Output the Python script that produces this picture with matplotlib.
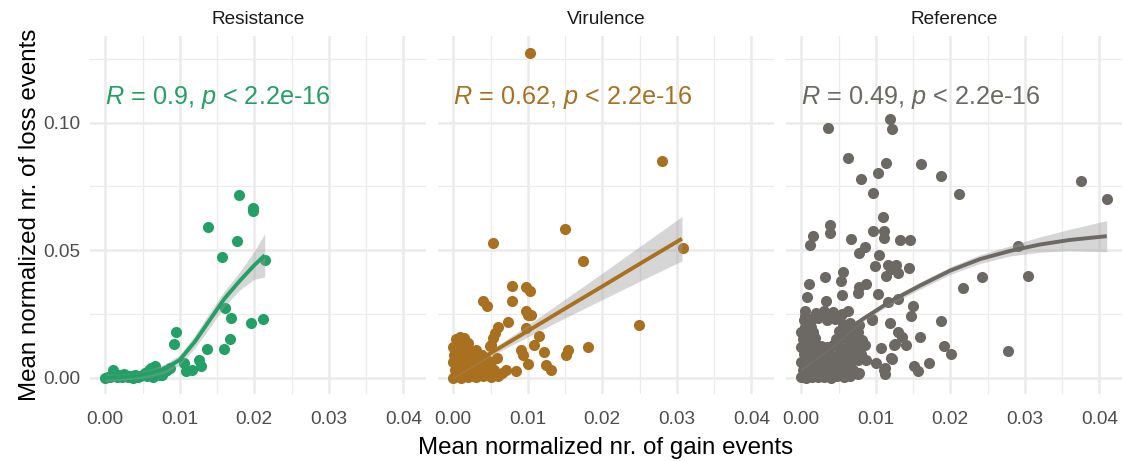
import numpy as np
import matplotlib.pyplot as plt

plt.rcParams['font.family'] = ['Liberation Sans', 'DejaVu Sans']
plt.rcParams['mathtext.fontset'] = 'custom'
plt.rcParams['mathtext.it'] = 'Liberation Sans:italic'
plt.rcParams['mathtext.rm'] = 'Liberation Sans'

panels = ['Resistance', 'Virulence', 'Reference']
colors = ['#23A066', '#A8701F', '#6C6863']
labels = [r'$\mathit{R}$ = 0.9, $\mathit{p}$ < 2.2e-16',
          r'$\mathit{R}$ = 0.62, $\mathit{p}$ < 2.2e-16',
          r'$\mathit{R}$ = 0.49, $\mathit{p}$ < 2.2e-16']

# Resistance points
res_x = [0.0000, 0.0003, 0.0006, 0.0008, 0.0011, 0.0013, 0.0016, 0.0019, 0.0022, 0.0025,
         0.0027, 0.0030, 0.0033, 0.0037, 0.0040, 0.0044, 0.0047, 0.0050, 0.0053, 0.0056,
         0.0059, 0.0062, 0.0064, 0.0067, 0.0070, 0.0073, 0.0076, 0.0080, 0.0083, 0.0087,
         0.01052, 0.01087, 0.01163, 0.01289, 0.01253, 0.01365, 0.01588, 0.01678, 0.00926, 0.00953,
         0.0161, 0.0169, 0.01955, 0.02116, 0.02139, 0.01570, 0.01767, 0.01374, 0.01978, 0.01985,
         0.01790]
res_y = [0.0000, 0.0002, 0.0001, 0.0006, 0.0031, 0.0010, 0.0004, 0.0012, 0.0002, 0.0015,
         0.0008, 0.0001, 0.0006, 0.0000, 0.0010, 0.0003, 0.0005, 0.0012, 0.0020, 0.0008,
         0.0031, 0.0038, 0.0004, 0.0044, 0.0020, 0.0010, 0.0012, 0.0025, 0.0030, 0.0038,
         0.0058, 0.0025, 0.0031, 0.0047, 0.0071, 0.0112, 0.0112, 0.0153, 0.0133, 0.0179,
         0.0273, 0.0235, 0.0214, 0.0230, 0.0461, 0.0475, 0.0537, 0.0591, 0.0667, 0.0655,
         0.0718]

# Virulence points
vir_x = [0.0000, 0.0005, 0.0010, 0.0015, 0.0020, 0.0025, 0.0030, 0.0035, 0.0040, 0.0045,
         0.0050, 0.0055, 0.0060, 0.0065, 0.0002, 0.0008, 0.0013, 0.0018, 0.0024, 0.0030,
         0.0036, 0.0042, 0.0048, 0.0054, 0.0000, 0.0006, 0.0012, 0.0017, 0.0023, 0.0029,
         0.0035, 0.0041, 0.0050, 0.0001, 0.0007, 0.0013, 0.0019, 0.0025, 0.0031, 0.0000,
         0.0006, 0.0012, 0.0018, 0.0024, 0.0003, 0.0009, 0.0015, 0.0012, 0.0020,
         0.0004, 0.0016, 0.0022, 0.0028, 0.0034, 0.0038, 0.0044, 0.0030,
         0.0049, 0.0051, 0.0053, 0.0056, 0.0059, 0.0060, 0.0071, 0.00843, 0.0100, 0.01243,
         0.01311, 0.00913, 0.00936, 0.0109, 0.01156, 0.01222, 0.01512, 0.01535, 0.01815, 0.00741,
         0.00982, 0.00973, 0.01003, 0.01049, 0.00785, 0.0040, 0.00447, 0.00794, 0.00982, 0.01026,
         0.00531, 0.01494, 0.01739, 0.02498, 0.03077, 0.02796, 0.01026]
vir_y = [0.0000, 0.0005, 0.0000, 0.0010, 0.0003, 0.0008, 0.0002, 0.0012, 0.0005, 0.0010,
         0.0003, 0.0015, 0.0008, 0.0020, 0.0030, 0.0035, 0.0028, 0.0040, 0.0032, 0.0038,
         0.0030, 0.0035, 0.0042, 0.0030, 0.0060, 0.0065, 0.0058, 0.0070, 0.0062, 0.0068,
         0.0058, 0.0066, 0.0060, 0.0090, 0.0095, 0.0088, 0.0098, 0.0085, 0.0080, 0.0120,
         0.0125, 0.0118, 0.0112, 0.0105, 0.0150, 0.0160, 0.0155, 0.0140, 0.0135,
         0.0108, 0.0128, 0.0078, 0.0092, 0.0072, 0.0088, 0.0072, 0.0110,
         0.0123, 0.0129, 0.0156, 0.0175, 0.0077, 0.0197, 0.0031, 0.0025, 0.0054, 0.0051,
         0.0029, 0.0110, 0.0090, 0.0129, 0.0165, 0.0101, 0.0090, 0.0107, 0.0119, 0.0217,
         0.0195, 0.0260, 0.0247, 0.0247, 0.0299, 0.0299, 0.0280, 0.0361, 0.0356, 0.0338,
         0.0528, 0.0584, 0.0459, 0.0208, 0.0509, 0.0851, 0.1273]

# Reference points
ref_x = [0.0000, 0.0007, 0.0015, 0.0023, 0.0031, 0.0040, 0.0048, 0.0057, 0.0066,
         0.0002, 0.0011, 0.0019, 0.0027, 0.0036, 0.0044, 0.0053, 0.0061, 0.0070,
         0.0000, 0.0008, 0.0016, 0.0024, 0.0033, 0.0041, 0.0050, 0.0058, 0.0067, 0.0076,
         0.0003, 0.0012, 0.0020, 0.0029, 0.0037, 0.0046, 0.0054, 0.0063, 0.0071, 0.0080,
         0.0000, 0.0009, 0.0017, 0.0026, 0.0034, 0.0043, 0.0051, 0.0060, 0.0068, 0.0077, 0.0085,
         0.0002, 0.0011, 0.0019, 0.0047, 0.0055, 0.0064, 0.0072, 0.0081,
         0.0000, 0.0008, 0.0016, 0.0050, 0.0059, 0.0067, 0.0076,
         0.0004, 0.0014, 0.0023, 0.0034, 0.0045, 0.0056, 0.0065,
         0.0020, 0.0030, 0.0043, 0.0055, 0.0063, 0.00044, 0.00044,
         0.0005, 0.0013, 0.0062, 0.0070, 0.0078,
         0.00603, 0.00759, 0.0113, 0.0113, 0.01519, 0.01563, 0.01005, 0.01711, 0.00871, 0.0122,
         0.00648, 0.00781, 0.01117, 0.01206, 0.02769, 0.01912, 0.02011, 0.01264, 0.01295, 0.01354,
         0.01595, 0.01072, 0.01251, 0.01407, 0.01193, 0.00951, 0.00946, 0.01877, 0.01496, 0.01474,
         0.00326, 0.01295, 0.01161, 0.02176, 0.02426, 0.03038, 0.00075, 0.0055, 0.01027, 0.00871,
         0.00772, 0.00759, 0.00102, 0.00558, 0.00527, 0.00312, 0.01161, 0.01273, 0.01206, 0.01139,
         0.01295, 0.01452, 0.00983, 0.02904, 0.0105, 0.00849, 0.00772, 0.01331, 0.01461, 0.01107,
         0.01107, 0.0096, 0.0067, 0.00156, 0.00111, 0.00379, 0.00379, 0.01103, 0.04097, 0.0096,
         0.02122, 0.03753, 0.01877, 0.00804, 0.01027, 0.01609, 0.01139, 0.00625, 0.00357, 0.01193,
         0.01215]
ref_y = [0.0002, 0.0000, 0.0004, 0.0001, 0.0003, 0.0000, 0.0005, 0.0002, 0.0008,
         0.0032, 0.0028, 0.0035, 0.0030, 0.0026, 0.0034, 0.0029, 0.0036, 0.0031,
         0.0061, 0.0066, 0.0058, 0.0063, 0.0060, 0.0067, 0.0062, 0.0057, 0.0064, 0.0069,
         0.0092, 0.0088, 0.0095, 0.0090, 0.0097, 0.0086, 0.0093, 0.0089, 0.0096, 0.0091,
         0.0121, 0.0126, 0.0118, 0.0124, 0.0120, 0.0127, 0.0122, 0.0117, 0.0125, 0.0119, 0.0128,
         0.0152, 0.0148, 0.0156, 0.0150, 0.0155, 0.0147, 0.0153, 0.0149,
         0.0181, 0.0186, 0.0178, 0.0183, 0.0179, 0.0187, 0.0180,
         0.0228, 0.0232, 0.0236, 0.0225, 0.0229, 0.0209, 0.0213,
         0.0255, 0.0262, 0.0258, 0.0248, 0.0262, 0.0243, 0.0260,
         0.0200, 0.0198, 0.0200, 0.0168, 0.0205,
         0.0012, 0.0016, 0.0038, 0.0016, 0.0044, 0.0025, 0.0058, 0.0058, 0.0071, 0.0073,
         0.0051, 0.0018, 0.0031, 0.0077, 0.0106, 0.0123, 0.0094, 0.0133, 0.0178, 0.0160,
         0.0160, 0.0116, 0.0129, 0.0129, 0.0214, 0.0227, 0.0230, 0.0221, 0.0282, 0.0243,
         0.0299, 0.0309, 0.0295, 0.0352, 0.0395, 0.0400, 0.0315, 0.0323, 0.0329, 0.0369,
         0.0356, 0.0332, 0.0369, 0.0413, 0.0378, 0.0395, 0.0443, 0.0443, 0.0426, 0.0397,
         0.0410, 0.0430, 0.0439, 0.0518, 0.0482, 0.0513, 0.0489, 0.0538, 0.0538, 0.0574,
         0.0548, 0.0574, 0.0544, 0.0554, 0.0522, 0.0600, 0.0567, 0.0631, 0.0701, 0.0724,
         0.0722, 0.0770, 0.0789, 0.0779, 0.0803, 0.0838, 0.0842, 0.0860, 0.0979, 0.1016,
         0.0975]

# smooth fits: x, fitted value, half width of the band
res_fit_x = [0.0, 0.002, 0.004, 0.006, 0.008, 0.010, 0.012, 0.014, 0.016, 0.018, 0.020, 0.0214]
res_fit_y = [0.0000, 0.0002, 0.0007, 0.0018, 0.0035, 0.0070, 0.0140, 0.0225, 0.0310, 0.0378, 0.0441, 0.0480]
res_fit_hw = [0.0015, 0.0012, 0.0012, 0.0015, 0.0018, 0.0020, 0.0025, 0.0030, 0.0030, 0.0035, 0.0055, 0.0085]

vir_fit_x = [0.0, 0.005, 0.010, 0.015, 0.020, 0.025, 0.0307]
vir_fit_y = [0.0008, 0.0096, 0.0183, 0.0271, 0.0358, 0.0446, 0.0545]
vir_fit_hw = [0.0010, 0.0012, 0.0023, 0.0037, 0.0052, 0.0068, 0.0087]

ref_fit_x = [0.0, 0.004, 0.008, 0.012, 0.016, 0.020, 0.024, 0.028, 0.032, 0.036, 0.041]
ref_fit_y = [0.0040, 0.0125, 0.0225, 0.0300, 0.0362, 0.0420, 0.0465, 0.0497, 0.0522, 0.0540, 0.0555]
ref_fit_hw = [0.0010, 0.0008, 0.0010, 0.0012, 0.0014, 0.0015, 0.0017, 0.0020, 0.0030, 0.0042, 0.0061]

xs = [res_x, vir_x, ref_x]
ys = [res_y, vir_y, ref_y]
fits = [(res_fit_x, res_fit_y, res_fit_hw), (vir_fit_x, vir_fit_y, vir_fit_hw),
        (ref_fit_x, ref_fit_y, ref_fit_hw)]

fig = plt.figure(figsize=(11.23, 4.61), dpi=100)
W, H = 1123, 461
lefts = [90, 438, 786]
pw = 336
top, bottom = 36, 394

for i in range(3):
    ax = fig.add_axes([lefts[i] / W, (H - bottom) / H, pw / W, (bottom - top) / H])
    ax.set_xlim(-0.00205, 0.04305)
    ax.set_ylim(-0.0064, 0.134)
    ax.set_xticks([0, 0.01, 0.02, 0.03, 0.04])
    ax.set_xticks([0.005, 0.015, 0.025, 0.035], minor=True)
    ax.set_yticks([0, 0.05, 0.10])
    ax.set_yticks([0.025, 0.075, 0.125], minor=True)
    ax.set_xticklabels(['0.00', '0.01', '0.02', '0.03', '0.04'])
    if i == 0:
        ax.set_yticklabels(['0.00', '0.05', '0.10'])
    else:
        ax.set_yticklabels([])
    ax.grid(which='major', color='#EBEBEB', linewidth=1.8)
    ax.grid(which='minor', color='#EBEBEB', linewidth=0.9)
    ax.set_axisbelow(True)
    for s in ax.spines.values():
        s.set_visible(False)
    ax.tick_params(which='both', length=0, labelsize=13.7, labelcolor='#4D4D4D')
    ax.tick_params(axis='x', pad=12.5)
    ax.tick_params(axis='y', pad=7)

    ax.scatter(xs[i], ys[i], s=64, color=colors[i], linewidths=0, zorder=2)
    fx, fy, hw = [np.array(a) for a in fits[i]]
    ax.fill_between(fx, fy - hw, fy + hw, color='#999999', alpha=0.4, linewidth=0, zorder=3)
    ax.plot(fx, fy, color=colors[i], linewidth=2.8, zorder=4, solid_capstyle='butt')

    ax.text(0.0, 0.1075, labels[i], color=colors[i], fontsize=18.2, ha='left', va='baseline')
    ax.set_title(panels[i], fontsize=13.7, color='#1A1A1A', pad=8.5)

fig.text(606 / W, 1 - 448 / H, 'Mean normalized nr. of gain events', fontsize=17.4,
         ha='center', va='center')
fig.text(30 / W, 1 - 215 / H, 'Mean normalized nr. of loss events', fontsize=17.4,
         ha='center', va='center', rotation=90)

fig.savefig('out.png', dpi=100)
